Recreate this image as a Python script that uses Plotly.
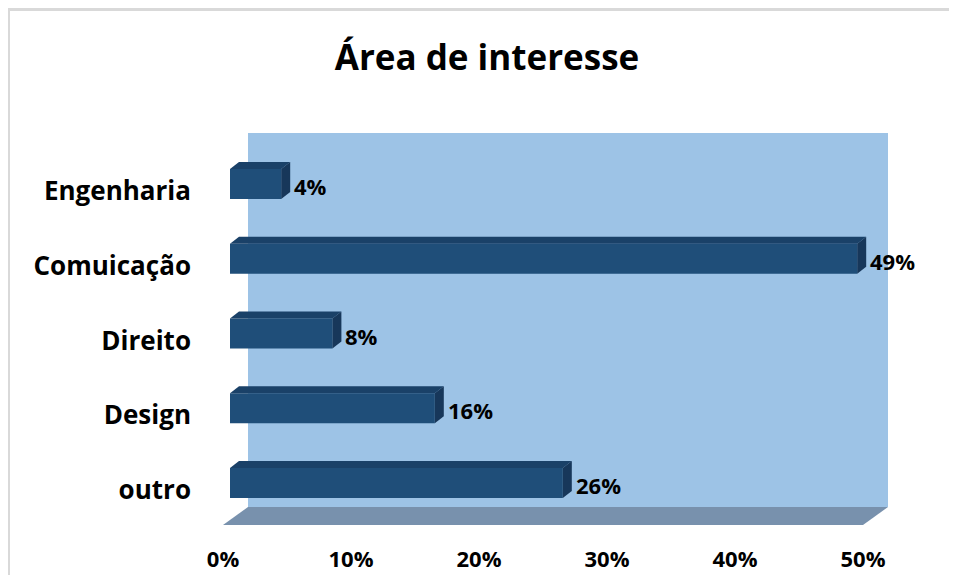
import plotly.graph_objects as go

# ---- data ----
categories = ["Engenharia", "Comuicação", "Direito", "Design", "outro"]
values = [4, 49, 8, 16, 26]
value_labels = ["4%", "49%", "8%", "16%", "26%"]
tick_vals = [0, 10, 20, 30, 40, 50]
tick_text = ["0%", "10%", "20%", "30%", "40%", "50%"]

# ---- style ----
FONT = "Open Sans"
WALL = "#9DC3E6"
FLOOR = "#7891AD"
BAR_FRONT = "#1F4E79"
BAR_TOP = "#1A4168"
BAR_SIDE = "#17375A"

OFF = 8                  # page body margin
W, H = 957 - 2 * OFF, 583 - 2 * OFF
L, T = 215 - OFF, 133 - OFF
PR, PB = 895 - OFF, 525 - OFF      # plot right / bottom in figure px
R, B = W - PR, H - PB
px_per_x = 12.8          # px per percent unit
px_per_y = 74.75         # px per category slot

x0_px = 230 - OFF        # figure pixel of value 0 on bar plane
first_px = 184 - OFF     # figure pixel of first category centre
last_px = 483 - OFF

x_range = [(L - x0_px) / px_per_x, (PR - x0_px) / px_per_x]
y_top = 0 - (first_px - T) / px_per_y
y_bot = 4 + (PB - last_px) / px_per_y
y_range = [y_bot, y_top]

pos = list(range(len(categories)))

# depth offsets (in data units)
bdx, bdy = 9 / px_per_x, -7 / px_per_y          # bar depth
wdx, wdy = 18 / px_per_x, -13 / px_per_y        # wall offset from bar plane
fdx, fdy = -7 / px_per_x, 5 / px_per_y          # floor front offset from bar plane
base_y = y_bot - fdy                            # bar-plane floor line
bw = 0.40

shapes = []
# back wall
shapes.append(dict(type="path", xref="x", yref="y", layer="below",
                   path=f"M {0+wdx},{y_top} L {50+wdx},{y_top} L {50+wdx},{base_y+wdy} L {0+wdx},{base_y+wdy} Z",
                   fillcolor=WALL, line=dict(width=0)))
# floor
shapes.append(dict(type="path", xref="x", yref="y", layer="below",
                   path=(f"M {0+wdx},{base_y+wdy} L {50+wdx},{base_y+wdy} "
                         f"L {50+fdx},{base_y+fdy} L {0+fdx},{base_y+fdy} Z"),
                   fillcolor=FLOOR, line=dict(width=0)))
# bar top and side faces
for p, v in zip(pos, values):
    yt = p - bw / 2
    yb = p + bw / 2
    shapes.append(dict(type="path", xref="x", yref="y", layer="above",
                       path=f"M 0,{yt} L {v},{yt} L {v+bdx},{yt+bdy} L {bdx},{yt+bdy} Z",
                       fillcolor=BAR_TOP, line=dict(width=0)))
    shapes.append(dict(type="path", xref="x", yref="y", layer="above",
                       path=f"M {v},{yt} L {v+bdx},{yt+bdy} L {v+bdx},{yb+bdy} L {v},{yb} Z",
                       fillcolor=BAR_SIDE, line=dict(width=0)))

# outer border (left & top)
pw = PR - L
ph = PB - T
def px_x(px):
    return (px - L) / pw
def px_y(py):
    return (PB - py) / ph
shapes.append(dict(type="line", xref="paper", yref="paper",
                   x0=px_x(8.5 - OFF), x1=px_x(8.5 - OFF), y0=px_y(8 - OFF), y1=px_y(H),
                   line=dict(color="#D9D9D9", width=3)))
shapes.append(dict(type="line", xref="paper", yref="paper",
                   x0=px_x(7 - OFF), x1=px_x(W), y0=px_y(9.5 - OFF), y1=px_y(9.5 - OFF),
                   line=dict(color="#D9D9D9", width=3)))

fig = go.Figure()
fig.add_trace(go.Bar(x=values, y=pos, orientation="h", width=bw,
                     marker=dict(color=BAR_FRONT, line=dict(width=0)),
                     hoverinfo="skip"))

annotations = []
for p, v, t in zip(pos, values, value_labels):
    annotations.append(dict(x=v, y=p, xref="x", yref="y", text=t, showarrow=False,
                            xanchor="left", yanchor="middle", xshift=11, yshift=-2,
                            font=dict(family=FONT, size=22, color="black", weight="bold")))

fig.update_layout(
    width=W, height=H,
    margin=dict(l=L, r=R, t=T, b=B, autoexpand=False),
    paper_bgcolor="white", plot_bgcolor="rgba(0,0,0,0)",
    showlegend=False,
    title=dict(text="Área de interesse", x=(487 - OFF) / W, xanchor="center",
               y=1 - (58 - OFF) / H, yanchor="middle", yref="container",
               font=dict(family=FONT, size=35, color="black", weight="bold")),
    xaxis=dict(range=x_range, tickvals=tick_vals, ticktext=tick_text,
               showgrid=False, zeroline=False, showline=False, ticks="",
               ticklabelshift=-7, ticklabelstandoff=19,
               tickfont=dict(family=FONT, size=22, color="black", weight="bold")),
    yaxis=dict(range=y_range, tickvals=pos, ticktext=categories,
               showgrid=False, zeroline=False, showline=False, ticks="",
               ticklabelshift=-7, ticklabelstandoff=23,
               tickfont=dict(family=FONT, size=26, color="black", weight="bold")),
    shapes=shapes, annotations=annotations,
)

fig.write_html("out.html")
